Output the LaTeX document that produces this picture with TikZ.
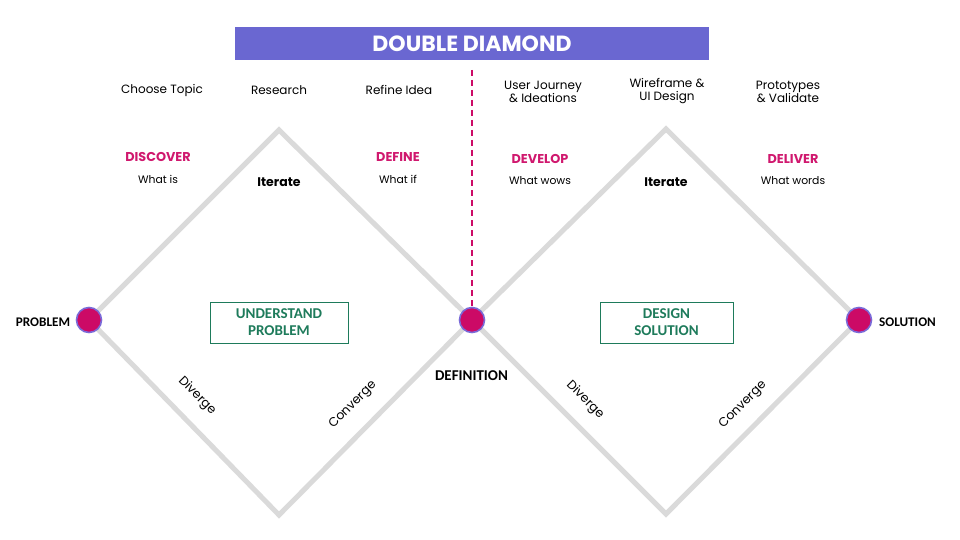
\documentclass[tikz,border=0pt]{standalone}
\usepackage{fontspec}
\setmainfont{Poppins}
\newfontfamily\carl{Carlito}
\definecolor{titlebar}{HTML}{6A67D1}
\definecolor{mag}{HTML}{CC0A66}
\definecolor{magtxt}{HTML}{D0186E}
\definecolor{ring}{HTML}{7A6AD8}
\definecolor{grn}{HTML}{1E7B5B}
\definecolor{edge}{HTML}{DADADA}
\tikzset{
  dline/.style={draw=edge, line width=5pt, line cap=round},
  dot/.style={circle, fill=mag, draw=ring, line width=1.6pt, minimum size=25pt, inner sep=0pt},
  step txt/.style={font=\fontsize{12}{13}\selectfont, align=center, text=black},
  phase/.style={font=\bfseries\fontsize{12.8}{14}\selectfont, text=magtxt},
  sub/.style={font=\fontsize{10.8}{12}\selectfont, text=black},
  iter/.style={font=\bfseries\fontsize{12.5}{14}\selectfont, text=black},
  endlbl/.style={font=\carl\bfseries\fontsize{13.2}{14}\selectfont, text=black},
  greenbox/.style={draw=grn, line width=0.9pt, text=grn, font=\carl\bfseries\fontsize{15}{17}\selectfont, align=center, minimum width=138pt, minimum height=41pt, inner sep=0pt},
  slope/.style={font=\fontsize{12.5}{13}\selectfont, text=black},
}
\begin{document}
\begin{tikzpicture}[x=1pt,y=-1pt]
\useasboundingbox (0,0) rectangle (960,540);
\fill[white] (0,0) rectangle (960,540);
% diamond vertices
\coordinate (Ltop) at (279,130);
\coordinate (Lbot) at (279,515);
\coordinate (Rtop) at (666,129);
\coordinate (Rbot) at (666,514);
\coordinate (P) at (89,320);
\coordinate (D) at (472,320);
\coordinate (S) at (859,320);
\draw[dline] (P) -- (Ltop) -- (D) -- (Lbot) -- cycle;
\draw[dline] (D) -- (Rtop) -- (S) -- (Rbot) -- cycle;
% dashed divider
\coordinate (dtop) at (472,70);
\coordinate (dbot) at (472,306);
\draw[mag, line width=2pt, dash pattern=on 6pt off 4pt] (dtop) -- (dbot);
% title
\node[fill=titlebar, minimum width=474pt, minimum height=33pt, inner sep=0pt, text=white, font=\bfseries\fontsize{22}{22}\selectfont] (title) at (472,43.5) {DOUBLE DIAMOND};
% dots
\node[dot] (prob) at (P) {};
\node[dot] (defn) at (D) {};
\node[dot] (sol) at (S) {};
% end labels
\node[endlbl] (problbl) at (43,322) {PROBLEM};
\node[endlbl] (sollbl) at (907.5,322) {SOLUTION};
\node[endlbl, font=\carl\bfseries\fontsize{15}{16}\selectfont] (deflbl) at (471.5,376) {DEFINITION};
% top steps
\node[step txt] (s1) at (162,90) {Choose Topic};
\node[step txt] (s2) at (279,90) {Research};
\node[step txt] (s3) at (399,90) {Refine Idea};
\node[step txt] (s4) at (543,91.5) {User Journey\\\& Ideations};
\node[step txt] (s5) at (667,91.5) {Wireframe \&\\UI Design};
\node[step txt] (s6) at (788,91.5) {Prototypes\\\& Validate};
% phases
\node[phase] (discover) at (158,157) {DISCOVER};
\node[sub] (whatis) at (158,179) {What is};
\node[phase] (define) at (398,157) {DEFINE};
\node[sub] (whatif) at (398,179) {What if};
\node[phase] (develop) at (540,159) {DEVELOP};
\node[sub] (whatwows) at (540,181) {What wows};
\node[phase] (deliver) at (793,159) {DELIVER};
\node[sub] (whatwords) at (793,181) {What words};
% iterate
\node[iter] (it1) at (279,182) {Iterate};
\node[iter] (it2) at (666,182) {Iterate};
% boxes
\node[greenbox] (ub) at (279,322.5) {UNDERSTAND\\PROBLEM};
\node[greenbox, minimum width=133pt] (db) at (666.5,322.5) {DESIGN\\SOLUTION};
% slopes
\node[slope, rotate=-45] (div1) at (197,396) {Diverge};
\node[slope, rotate=45] (con1) at (353,405) {Converge};
\node[slope, rotate=-45] (div2) at (585,400) {Diverge};
\node[slope, rotate=45] (con2) at (743,405) {Converge};
\end{tikzpicture}
\end{document}
